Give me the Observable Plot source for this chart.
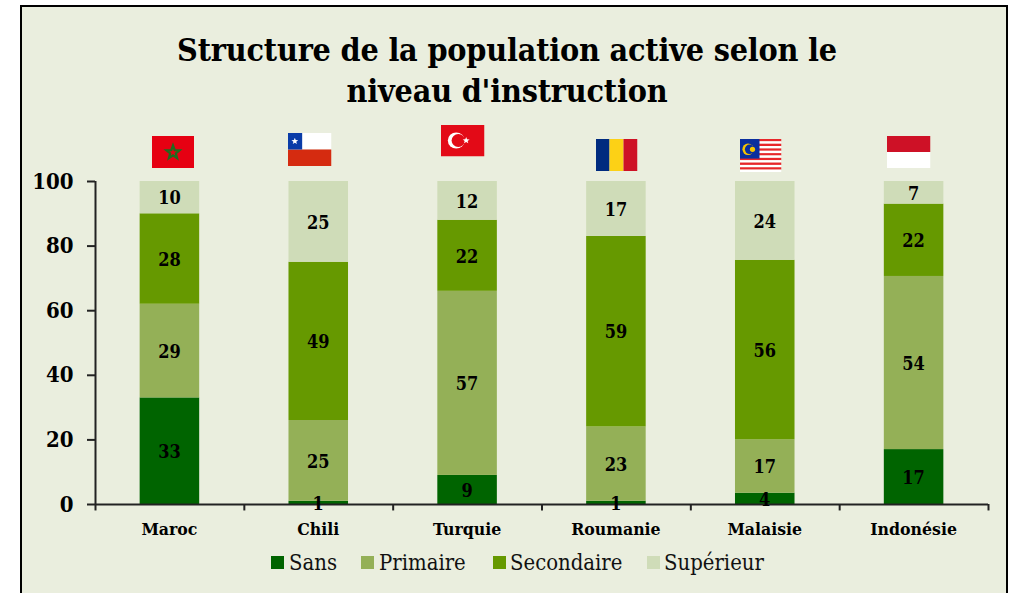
<!DOCTYPE html>
<html lang="fr">
<head>
<meta charset="utf-8">
<script src="https://cdn.jsdelivr.net/npm/d3@7"></script>
<script src="https://cdn.jsdelivr.net/npm/@observablehq/plot@0.6"></script>
<style>
html,body{margin:0;padding:0;background:#fff;overflow:hidden}
#panel{position:absolute;left:20px;top:5px;width:984px;height:600px;background:#EAEEDE;border:2px solid #000}
#title{position:absolute;left:0;top:30px;width:1014px;margin:0;text-align:center;font:bold 32px/41px "DejaVu Serif Condensed","DejaVu Serif",serif;color:#000;letter-spacing:-.2px}
#chart{position:absolute;left:0;top:0}
#legend span{position:absolute;white-space:nowrap}
.sw{width:13px;height:13px;top:556px}
.lb{top:549px;font:21.9px/28px "DejaVu Serif Condensed","DejaVu Serif",serif;color:#111}
</style>
</head>
<body>
<div id="panel"></div>
<h1 id="title">Structure de la population active selon le<br>niveau d'instruction</h1>
<div id="chart"></div>
<div id="legend"></div>
<script>
const countries = ["Maroc","Chili","Turquie","Roumanie","Malaisie","Indonésie"];
const levels = ["Sans","Primaire","Secondaire","Supérieur"];
const colors = ["#006400","#94B057","#669900","#CFDCB8"];
const sans = [33,1,9,1,3.5,17];
const primaire = [29,25,57,23,16.5,53.6];
const secondaire = [28,49,22,59,55.6,22.4];
const superieur = [10,25,12,17,24.4,7];
const yTicks = [0,20,40,60,80,100];

const series = [sans,primaire,secondaire,superieur];
const rows = levels.flatMap((level,i)=>countries.map((country,j)=>({country,level,value:series[i][j]})));

const serif = '"DejaVu Serif Condensed","DejaVu Serif",serif';
const uri = s => "data:image/svg+xml;charset=utf-8," + encodeURIComponent(
  `<svg xmlns="http://www.w3.org/2000/svg" viewBox="0 0 42 32" preserveAspectRatio="none">${s}</svg>`);
const star = (cx,cy,r,attrs) => {
  const p = d3.range(10).map(i=>{
    const a = -Math.PI/2 + i*Math.PI/5, q = i%2 ? r*0.42 : r;
    return `${cx+q*Math.cos(a)},${cy+q*Math.sin(a)}`;
  }).join(" ");
  return `<polygon points="${p}" ${attrs}/>`;
};
const malaysiaStripes = d3.range(14).map(i=>
  `<rect x="0" y="${i*32/14}" width="42" height="${32/14}" fill="${i%2?"#fff":"#E8262A"}"/>`).join("");
const flags = [
  {cx:172.5,cy:151.5,w:42,h:32,src:uri(`<rect width="42" height="32" fill="#E60012"/>`+star(21,16.5,7,`fill="none" stroke="#1E6B1E" stroke-width="2.2"`))},
  {cx:309,cy:149,w:44,h:33,src:uri(`<rect width="42" height="16" fill="#fff"/><rect y="16" width="42" height="16" fill="#D52B10"/><rect width="14" height="16" fill="#0A3CA8"/>`+star(7,8,3.4,`fill="#fff"`))},
  {cx:462,cy:140,w:44,h:32,src:uri(`<rect width="42" height="32" fill="#E30A17"/><circle cx="15" cy="16" r="8" fill="#fff"/><circle cx="17" cy="16" r="6.4" fill="#E30A17"/>`+star(24.5,16,3.5,`fill="#fff"`))},
  {cx:616,cy:154.5,w:42,h:32,src:uri(`<rect width="14" height="32" fill="#002B7F"/><rect x="14" width="14" height="32" fill="#FCD116"/><rect x="28" width="14" height="32" fill="#CE1126"/>`)},
  {cx:760,cy:155,w:42,h:33,src:uri(malaysiaStripes+`<rect width="20" height="19" fill="#0A2F9E"/><circle cx="8.5" cy="10" r="5.6" fill="#F7C600"/><circle cx="10" cy="10" r="4.6" fill="#0A2F9E"/><circle cx="13" cy="10" r="2.6" fill="#F7C600"/>`)},
  {cx:908,cy:151.5,w:44,h:32,src:uri(`<rect width="42" height="16" fill="#CE1126"/><rect y="16" width="42" height="16" fill="#fff"/>`)}
];

const M = {left:95,right:23,top:181,bottom:36};
const step = (1011-M.left-M.right)/countries.length;
const axisColor = "#222";
const axisWidth = 2;

const plot = Plot.plot({
  width:1011,height:540,
  marginLeft:M.left,marginRight:M.right,marginTop:M.top,marginBottom:M.bottom,
  style:{background:"transparent",fontFamily:serif,overflow:"visible"},
  x:{domain:countries,paddingInner:0.6,paddingOuter:0.3,round:false,label:null},
  y:{domain:[0,100],label:null},
  color:{domain:levels,range:colors},
  marks:[
    Plot.barY(rows,Plot.stackY({x:"country",y:"value",fill:"level",z:"level",order:levels})),
    Plot.ruleY([0],{stroke:axisColor,strokeWidth:axisWidth}),
    Plot.ruleX(countries.slice(0,1),{x:d=>d,dx:-step/2,y1:0,y2:100,stroke:axisColor,strokeWidth:axisWidth}),
    Plot.ruleX(countries,{x:d=>d,dx:-step/2,y1:0,y2:-2,stroke:axisColor,strokeWidth:axisWidth}),
    Plot.ruleX(countries.slice(-1),{x:d=>d,dx:step/2,y1:0,y2:-2,stroke:axisColor,strokeWidth:axisWidth}),
    Plot.axisY({ticks:yTicks,tickSize:8,tickPadding:14,stroke:axisColor,strokeWidth:axisWidth,strokeOpacity:1,fontSize:22,fontWeight:"bold",fill:"#000",label:null}),
    Plot.axisX({tickSize:0,tickPadding:18,fontSize:17.5,fontWeight:"bold",fill:"#000",dx:-0.5,label:null}),
    Plot.text(rows,Plot.stackY({x:"country",y:"value",z:"level",order:levels,text:d=>String(Math.round(d.value)),fontSize:18,fontWeight:"bold",fill:"#000",dx:-0.5,dy:1})),
    ...flags.map(f=>Plot.image([f],{src:d=>d.src,width:f.w,height:f.h,frameAnchor:"top-left",dx:f.cx-M.left,dy:f.cy-M.top,preserveAspectRatio:"none"}))
  ]
});
document.getElementById("chart").append(plot);

const swatchX = [271,361,493,647];
const labelX = [289,379,510,664];
const legend = document.getElementById("legend");
levels.forEach((l,i)=>{
  const s=document.createElement("span");s.className="sw";s.style.left=swatchX[i]+"px";s.style.background=colors[i];legend.append(s);
  const t=document.createElement("span");t.className="lb";t.style.left=labelX[i]+"px";t.textContent=l;legend.append(t);
});
</script>
</body>
</html>
